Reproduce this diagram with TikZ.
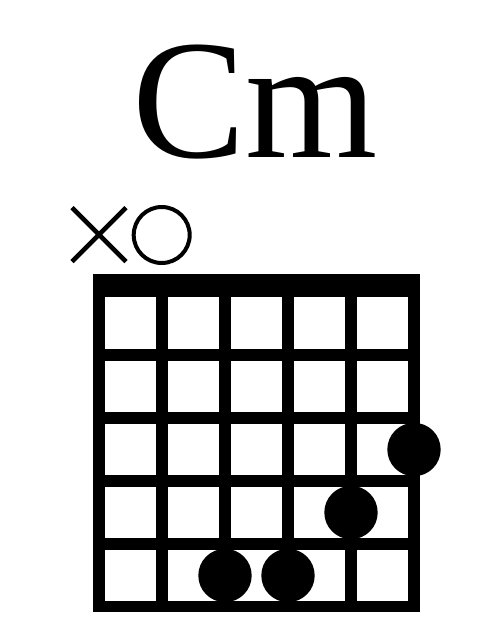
\documentclass[tikz,border=0pt]{standalone}
\usepackage{fontspec}
\setmainfont{Liberation Serif}
\begin{document}
\begin{tikzpicture}[x=1pt,y=-1pt,
  fretline/.style={line width=11.5pt},
  fingerdot/.style={circle,fill=black,inner sep=0pt,minimum size=53.4pt},
  openmark/.style={circle,draw=black,line width=4pt,inner sep=0pt,minimum size=56pt}]
\useasboundingbox[fill=white] (0,0) rectangle (500,625);
% title
\node[anchor=base,inner sep=0pt,font=\fontsize{170}{170}\selectfont] (title) at (255,157) {Cm};
% nut
\fill (93.3,274) rectangle (420.2,297.3);
% frame
\draw[fretline] (99,285) rectangle (414,606.5);
% strings
\foreach \i in {1,...,4} \draw[fretline] ({99+63*\i},285) -- ({99+63*\i},606.5);
% frets
\foreach \j in {1,...,4} \draw[fretline] (99,{292+63*\j}) -- (414,{292+63*\j});
% muted / open marks
\node[inner sep=0pt] (mute) at (99,234.7) {};
\draw[line width=4.6pt] (72,207.5) -- (126,261.5) (126,207.5) -- (72,261.5);
\node[openmark] (open) at (161.7,235) {};
% finger dots
\node[fingerdot] (d6) at (414,449.5) {};
\node[fingerdot] (d5) at (351,512.5) {};
\node[fingerdot] (d4) at (288,575.5) {};
\node[fingerdot] (d3) at (225,575.5) {};
\end{tikzpicture}
\end{document}
